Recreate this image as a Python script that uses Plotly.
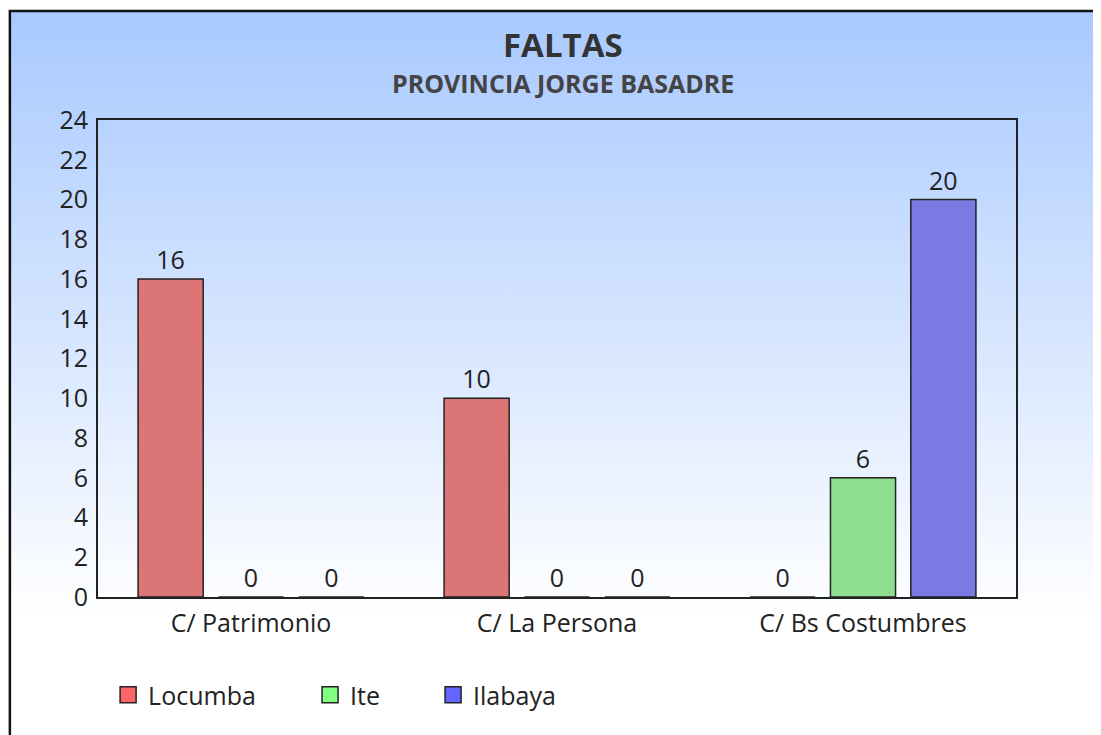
import base64
import plotly.graph_objects as go

categories = ['C/ Patrimonio', 'C/ La Persona', 'C/ Bs Costumbres']
locumba = [16, 10, 0]
ite = [0, 0, 6]
ilabaya = [0, 0, 20]
y_ticks = list(range(0, 25, 2))

# name, values, bar colour, legend swatch colour, legend x position
series = [
    ('Locumba', locumba, '#dc7676', '#ff6464', 0.011),
    ('Ite', ite, '#8ede8e', '#80ff80', 0.231),
    ('Ilabaya', ilabaya, '#7a7ae2', '#6464ff', 0.365),
]

# soft blue-to-white background, used as a paper-wide image
svg = (
    "<svg xmlns='http://www.w3.org/2000/svg' width='100' height='100' preserveAspectRatio='none'>"
    "<defs><linearGradient id='g' x1='0' y1='0' x2='0' y2='1'>"
    "<stop offset='0' stop-color='#a8c9ff'/>"
    "<stop offset='0.84' stop-color='#ffffff'/>"
    "<stop offset='1' stop-color='#ffffff'/>"
    "</linearGradient></defs>"
    "<rect width='100' height='100' fill='url(#g)'/></svg>"
)
bg_src = "data:image/svg+xml;base64," + base64.b64encode(svg.encode()).decode()

fig = go.Figure()
legends = {}
for i, (name, vals, color, swatch, lx) in enumerate(series):
    leg = 'legend' if i == 0 else f'legend{i + 1}'
    fig.add_trace(go.Bar(
        x=categories,
        y=vals,
        name=name,
        marker=dict(color=color, line=dict(color='#222222', width=1.5)),
        text=vals,
        textposition='outside',
        textfont=dict(color='#222222', size=25),
        cliponaxis=False,
        showlegend=False,
        legendgroup=name,
    ))
    # legend swatch, one legend per series so each sits where the original does
    fig.add_trace(go.Scatter(
        x=[None], y=[None],
        mode='markers',
        name=name,
        legend=leg,
        legendgroup=name,
        marker=dict(symbol='square', size=16, color=swatch,
                    line=dict(color='#222222', width=1.5)),
        hoverinfo='skip',
    ))
    legends[leg] = dict(
        orientation='h',
        x=lx, xanchor='left',
        y=-0.2055, yanchor='middle',
        font=dict(size=25, color='#222222'),
        bgcolor='rgba(0,0,0,0)',
        itemsizing='trace',
    )

fig.update_layout(
    width=1101,
    height=735,
    margin=dict(l=90, r=93, t=112, b=146),
    font=dict(family='Open Sans, sans-serif', color='#222222', size=25),
    paper_bgcolor='#ffffff',
    plot_bgcolor='rgba(0,0,0,0)',
    barmode='group',
    bargap=0.212,
    bargroupgap=0.19,
    showlegend=True,
    images=[dict(
        source=bg_src,
        xref='paper', yref='paper',
        x=-0.097, y=1.2306,
        sizex=1.19, sizey=1.52,
        xanchor='left', yanchor='top',
        sizing='stretch',
        layer='below',
    )],
    shapes=[dict(
        type='rect', xref='paper', yref='paper',
        x0=-0.096, x1=1.25, y0=-0.6, y1=1.2285,
        line=dict(color='#111111', width=2.5),
    )],
    annotations=[
        dict(text='<b>FALTAS</b>', xref='paper', yref='paper',
             x=0.5065, y=1.158, yanchor='middle', showarrow=False,
             font=dict(size=33, color='#333333')),
        dict(text='<b>PROVINCIA JORGE BASADRE</b>', xref='paper', yref='paper',
             x=0.5065, y=1.0785, yanchor='middle', showarrow=False,
             font=dict(size=25, color='#444444')),
    ],
    **legends,
)

fig.update_xaxes(
    showline=True, mirror=True, linecolor='#222222', linewidth=2,
    showgrid=False, ticks='', ticklabelstandoff=3,
    tickfont=dict(size=25, color='#222222'),
)
fig.update_yaxes(
    range=[0, 24], tickvals=y_ticks,
    showline=True, mirror=True, linecolor='#222222', linewidth=2,
    showgrid=False, zeroline=False, ticks='', ticklabelstandoff=3,
    tickfont=dict(size=25, color='#222222'),
)

fig.write_html("out.html")
